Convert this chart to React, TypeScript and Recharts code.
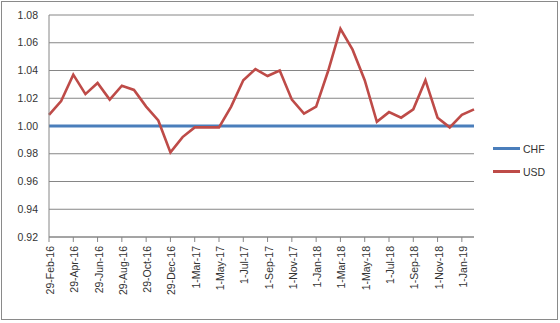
import { LineChart, Line, XAxis, YAxis, CartesianGrid, Legend } from "recharts";

const dates = [
  "29-Feb-16", "29-Mar-16", "29-Apr-16", "29-May-16", "29-Jun-16", "29-Jul-16",
  "29-Aug-16", "29-Sep-16", "29-Oct-16", "29-Nov-16", "29-Dec-16", "29-Jan-17",
  "1-Mar-17", "1-Apr-17", "1-May-17", "1-Jun-17", "1-Jul-17", "1-Aug-17",
  "1-Sep-17", "1-Oct-17", "1-Nov-17", "1-Dec-17", "1-Jan-18", "1-Feb-18",
  "1-Mar-18", "1-Apr-18", "1-May-18", "1-Jun-18", "1-Jul-18", "1-Aug-18",
  "1-Sep-18", "1-Oct-18", "1-Nov-18", "1-Dec-18", "1-Jan-19", "1-Feb-19",
];

const usd = [
  1.008, 1.018, 1.037, 1.023, 1.031, 1.019,
  1.029, 1.026, 1.014, 1.004, 0.981, 0.992,
  0.999, 0.999, 0.999, 1.014, 1.033, 1.041,
  1.036, 1.040, 1.019, 1.009, 1.014, 1.040,
  1.070, 1.055, 1.033, 1.003, 1.010, 1.006,
  1.012, 1.033, 1.006, 0.999, 1.008, 1.012,
];

const chf = [
  1, 1, 1, 1, 1, 1, 1, 1, 1, 1, 1, 1,
  1, 1, 1, 1, 1, 1, 1, 1, 1, 1, 1, 1,
  1, 1, 1, 1, 1, 1, 1, 1, 1, 1, 1, 1,
];

const yTicks = [0.92, 0.94, 0.96, 0.98, 1.0, 1.02, 1.04, 1.06, 1.08];

const data = dates.map((d, i) => ({ date: d, CHF: chf[i], USD: usd[i] }));

const FONT = "'Liberation Sans', Arial, sans-serif";
const GRID = "#868686";

const DateTick = (props: any) => {
  const { x, y, payload } = props;
  return (
    <text
      x={x}
      y={y}
      dy={5}
      transform={`rotate(-90, ${x}, ${y})`}
      textAnchor="end"
      fontSize={10.5}
      fontFamily={FONT}
      fill="#333"
    >
      {payload.value}
    </text>
  );
};

const renderLegend = (props: any) => {
  const { payload } = props;
  return (
    <div style={{ fontFamily: FONT, fontSize: 10.5, color: "#333" }}>
      {payload.map((entry: any) => (
        <div key={entry.value} style={{ display: "flex", alignItems: "center", height: 23 }}>
          <span style={{ display: "inline-block", width: 27, height: 2.5, background: entry.color, marginRight: 3 }} />
          <span>{entry.value}</span>
        </div>
      ))}
    </div>
  );
};

export default function App() {
  return (
    <div style={{ position: "relative", width: 560, height: 323 }}>
      <style>{`body { margin: 0; background: #fff; }`}</style>
      <div
        style={{
          position: "absolute", left: 1, top: 1, width: 557, height: 319,
          boxSizing: "border-box", border: "1px solid #8a8a8a",
        }}
      />
      <div style={{ position: "absolute", left: 0, top: 0 }}>
        <LineChart width={560} height={323} data={data} margin={{ top: 15, right: 86, bottom: 0, left: 0 }}>
          <CartesianGrid vertical={false} stroke={GRID} />
          <XAxis
            dataKey="date"
            interval={1}
            height={86}
            tickSize={5}
            tickMargin={4}
            stroke={GRID}
            tick={DateTick}
          />
          <YAxis
            width={49}
            domain={[0.92, 1.08]}
            ticks={yTicks}
            tickFormatter={(v: number) => v.toFixed(2)}
            tickLine={false}
            tickSize={0}
            tickMargin={11}
            stroke={GRID}
            tick={{ fontSize: 10.5, fontFamily: FONT, fill: "#333" }}
          />
          <Legend
            layout="horizontal"
            verticalAlign="middle"
            align="center"
            content={renderLegend}
            wrapperStyle={{ left: 493, top: 137, width: 60 }}
          />
          <Line dataKey="CHF" stroke="#4a7ebb" strokeWidth={3} dot={false} isAnimationActive={false} />
          <Line dataKey="USD" stroke="#be4b48" strokeWidth={2.6} dot={false} isAnimationActive={false} />
        </LineChart>
      </div>
    </div>
  );
}
